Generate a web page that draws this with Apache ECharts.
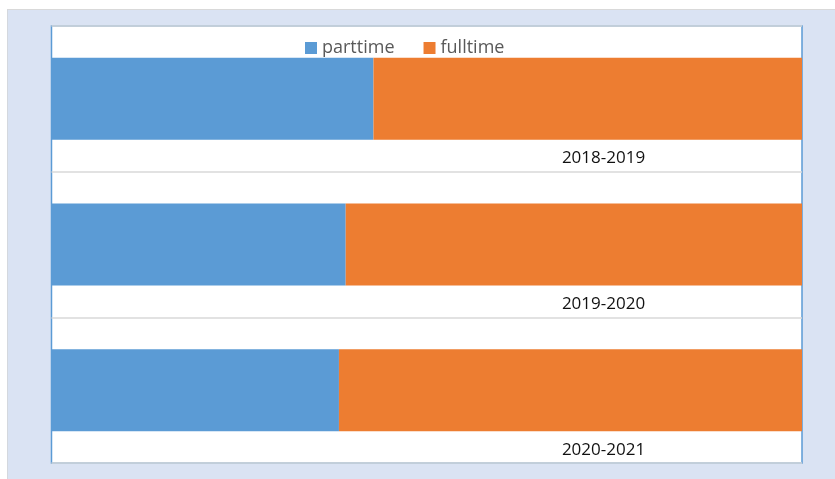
<!DOCTYPE html>
<html>
<head>
<meta charset="utf-8">
<script src="https://cdn.jsdelivr.net/npm/echarts@6/dist/echarts.min.js"></script>
<style>
  html, body { margin: 0; padding: 0; background: #ffffff; }
  #bg { position: absolute; left: 7px; top: 9px; width: 828px; height: 470px;
        background: #dae3f3; border-left: 1px solid #d4d8de; border-top: 1px solid #d9d9d9; }
  #chart { position: absolute; left: 0; top: 0; width: 835px; height: 479px; }
</style>
</head>
<body>
<div id="bg"></div>
<div id="chart"></div>
<script>
// school years shown top to bottom
const years = ['2018-2019', '2019-2020', '2020-2021']
// share of students, percent
const parttime = [42.9, 39.2, 38.3]
const fulltime = [57.1, 60.8, 61.7]

const myChart = echarts.init(document.getElementById('chart'))

myChart.setOption({
  animation: false,
  textStyle: { fontFamily: 'Open Sans' },
  legend: {
    data: ['parttime', 'fulltime'],
    left: 300,
    top: 34,
    itemWidth: 12,
    itemHeight: 12,
    itemGap: 29,
    icon: 'rect',
    textStyle: { color: '#595959', fontSize: 18, fontFamily: 'Open Sans' }
  },
  grid: {
    left: 51.5,
    right: 33,
    top: 26,
    bottom: 16,
    show: true,
    backgroundColor: '#ffffff',
    borderColor: '#5b9bd5',
    borderWidth: 1.5
  },
  xAxis: {
    type: 'value',
    min: 0,
    max: 100,
    show: false
  },
  yAxis: {
    type: 'category',
    data: years,
    inverse: true,
    axisLine: { show: false },
    axisTick: { show: false },
    splitLine: { show: true, lineStyle: { color: '#d9d9d9', width: 1.5 } },
    axisLabel: {
      inside: true,
      margin: 552,
      align: 'center',
      verticalAlign: 'top',
      padding: [51, 0, 0, 0],
      color: '#111111',
      fontSize: 17,
      fontFamily: 'Open Sans'
    }
  },
  series: [
    {
      name: 'parttime',
      type: 'bar',
      stack: 'all',
      barWidth: 82,
      color: '#5b9bd5',
      data: parttime
    },
    {
      name: 'fulltime',
      type: 'bar',
      stack: 'all',
      barWidth: 82,
      color: '#ed7d31',
      data: fulltime
    }
  ]
})
</script>
</body>
</html>
